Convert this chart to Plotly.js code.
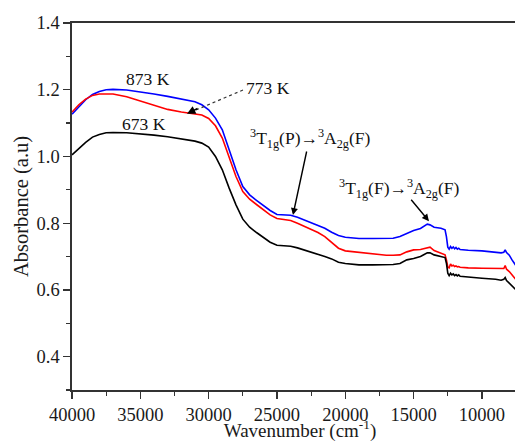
<!DOCTYPE html>
<html>
<head>
<meta charset="utf-8">
<script src="https://cdn.plot.ly/plotly-3.0.1.min.js"></script>
<style>
html,body{margin:0;padding:0;overflow:hidden;background:#fff;}
#chart{width:545px;height:442px;}
</style>
</head>
<body>
<div id="chart"></div>
<script>
// Wavenumber (cm^-1)
const wavenumber = [40000,39500,39000,38500,38000,37500,37000,36000,35000,34000,33000,32000,31000,30500,30000,29500,29000,28500,28000,27500,27000,26500,26000,25500,25000,24500,24000,23500,23000,22500,22000,21500,21000,20500,20000,19000,18000,17000,16500,16000,15500,15000,14500,14000,13800,13500,13000,12700,12600,12500,12400,12300,12200,12100,12000,11900,11800,11700,11600,11400,11000,10000,9000,8600,8400,8300,8200,8000,7800,7600,7500];

const abs873 = [1.127,1.150,1.170,1.186,1.195,1.200,1.201,1.199,1.194,1.187,1.180,1.173,1.164,1.155,1.140,1.115,1.080,1.020,0.960,0.910,0.885,0.868,0.852,0.838,0.826,0.824,0.824,0.818,0.810,0.802,0.792,0.785,0.773,0.763,0.758,0.754,0.754,0.754,0.755,0.760,0.770,0.778,0.784,0.797,0.795,0.788,0.785,0.780,0.760,0.728,0.722,0.730,0.725,0.729,0.723,0.727,0.722,0.725,0.721,0.721,0.719,0.717,0.713,0.711,0.713,0.720,0.712,0.704,0.690,0.678,0.672];

const abs773 = [1.133,1.155,1.172,1.183,1.187,1.188,1.187,1.179,1.167,1.153,1.141,1.133,1.128,1.124,1.114,1.092,1.055,0.995,0.940,0.895,0.872,0.856,0.840,0.825,0.814,0.810,0.808,0.800,0.791,0.780,0.772,0.760,0.742,0.725,0.717,0.712,0.709,0.704,0.704,0.705,0.714,0.720,0.721,0.727,0.728,0.718,0.710,0.705,0.690,0.668,0.666,0.678,0.672,0.674,0.670,0.672,0.669,0.670,0.668,0.667,0.666,0.665,0.664,0.662,0.664,0.673,0.662,0.655,0.645,0.635,0.630];

const abs673 = [1.005,1.025,1.042,1.058,1.066,1.071,1.072,1.071,1.068,1.064,1.059,1.053,1.046,1.040,1.028,1.000,0.960,0.905,0.855,0.812,0.788,0.772,0.757,0.743,0.734,0.732,0.731,0.726,0.720,0.713,0.706,0.700,0.693,0.683,0.679,0.675,0.675,0.676,0.676,0.679,0.690,0.694,0.700,0.711,0.711,0.705,0.701,0.697,0.680,0.650,0.643,0.650,0.645,0.648,0.643,0.646,0.642,0.645,0.641,0.640,0.638,0.635,0.632,0.629,0.632,0.637,0.628,0.620,0.613,0.605,0.600];

const seriesNames = ['873 K','773 K','673 K'];
const seriesColors = ['#0000ff','#ff0000','#000000'];
const xTickVals = [40000,35000,30000,25000,20000,15000,10000];
const yTickVals = [0.4,0.6,0.8,1.0,1.2,1.4];

const font = 'Liberation Serif, Times New Roman, serif';

const traces = [abs873, abs773, abs673].map((ys, i) => ({
  x: wavenumber, y: ys, type: 'scatter', mode: 'lines', name: seriesNames[i],
  line: {color: seriesColors[i], width: 1.6}
}));

const layout = {
  width: 545, height: 442,
  margin: {l: 72, r: 17, t: 23, b: 52},
  paper_bgcolor: '#fff', plot_bgcolor: '#fff',
  showlegend: false,
  font: {family: font, size: 17, color: '#1a1a1a'},
  xaxis: {
    range: [40000, 6630], autorange: false,
    tickvals: xTickVals, ticktext: xTickVals.map(String),
    ticks: 'outside', ticklen: 7, tickwidth: 1.3, tickcolor: '#333',
    minor: {dtick: 2500, tick0: 0, ticks: 'outside', ticklen: 4, tickwidth: 1.2, tickcolor: '#333'},
    showline: true, linecolor: '#333', linewidth: 1.6, mirror: true,
    showgrid: false, zeroline: false,
    tickfont: {family: font, size: 18.5, color: '#1a1a1a'},
    title: {text: 'Wavenumber (cm<sup>-1</sup>)', font: {family: font, size: 19, color: '#1a1a1a'}, standoff: 5}
  },
  yaxis: {
    range: [0.3, 1.4], autorange: false,
    tickvals: yTickVals, ticktext: yTickVals.map(v => v.toFixed(1)),
    ticks: 'outside', ticklen: 7, tickwidth: 1.3, tickcolor: '#333',
    minor: {dtick: 0.1, tick0: 0.3, ticks: 'outside', ticklen: 4, tickwidth: 1.2, tickcolor: '#333'},
    showline: true, linecolor: '#333', linewidth: 1.6, mirror: true,
    showgrid: false, zeroline: false,
    tickfont: {family: font, size: 18.5, color: '#1a1a1a'},
    title: {text: 'Absorbance (a.u)', font: {family: font, size: 20.5, color: '#1a1a1a'}, standoff: 2}
  },
  shapes: [
    {type: 'line', xref: 'x', yref: 'y', x0: 27488, y0: 1.199, x1: 31300, y1: 1.133,
     line: {color: '#333', width: 1.2, dash: 'dot'}}
  ],
  annotations: [
    {x: 34440, y: 1.232, xref: 'x', yref: 'y', text: '873 K', showarrow: false, font: {family: font, size: 17.5, color: '#111'}},
    {x: 34730, y: 1.097, xref: 'x', yref: 'y', text: '673 K', showarrow: false, font: {family: font, size: 17.5, color: '#111'}},
    {x: 25660, y: 1.205, xref: 'x', yref: 'y', text: '773 K', showarrow: false, font: {family: font, size: 17.5, color: '#111'}},
    {x: 31585, y: 1.128, xref: 'x', yref: 'y', text: '', showarrow: true, arrowhead: 2, arrowsize: 1.2, arrowwidth: 1.4, arrowcolor: '#000', ax: 12, ay: -6},
    {x: 22512, y: 1.055, xref: 'x', yref: 'y', text: '<sup>3</sup>T<sub>1g</sub>(P)→<sup>3</sup>A<sub>2g</sub>(F)', showarrow: false, font: {family: font, size: 17.5, color: '#111'}},
    {x: 23830, y: 0.8245, xref: 'x', yref: 'y', text: '', showarrow: true, arrowhead: 2, arrowsize: 1, arrowwidth: 1.4, arrowcolor: '#000', ax: 14, ay: -65},
    {x: 16000, y: 0.905, xref: 'x', yref: 'y', text: '<sup>3</sup>T<sub>1g</sub>(F)→<sup>3</sup>A<sub>2g</sub>(F)', showarrow: false, font: {family: font, size: 17.5, color: '#111'}},
    {x: 13878, y: 0.806, xref: 'x', yref: 'y', text: '', showarrow: true, arrowhead: 2, arrowsize: 1, arrowwidth: 1.4, arrowcolor: '#000', ax: -19, ay: -23}
  ]
};

Plotly.newPlot('chart', traces, layout, {displayModeBar: false, staticPlot: true});
</script>
</body>
</html>
